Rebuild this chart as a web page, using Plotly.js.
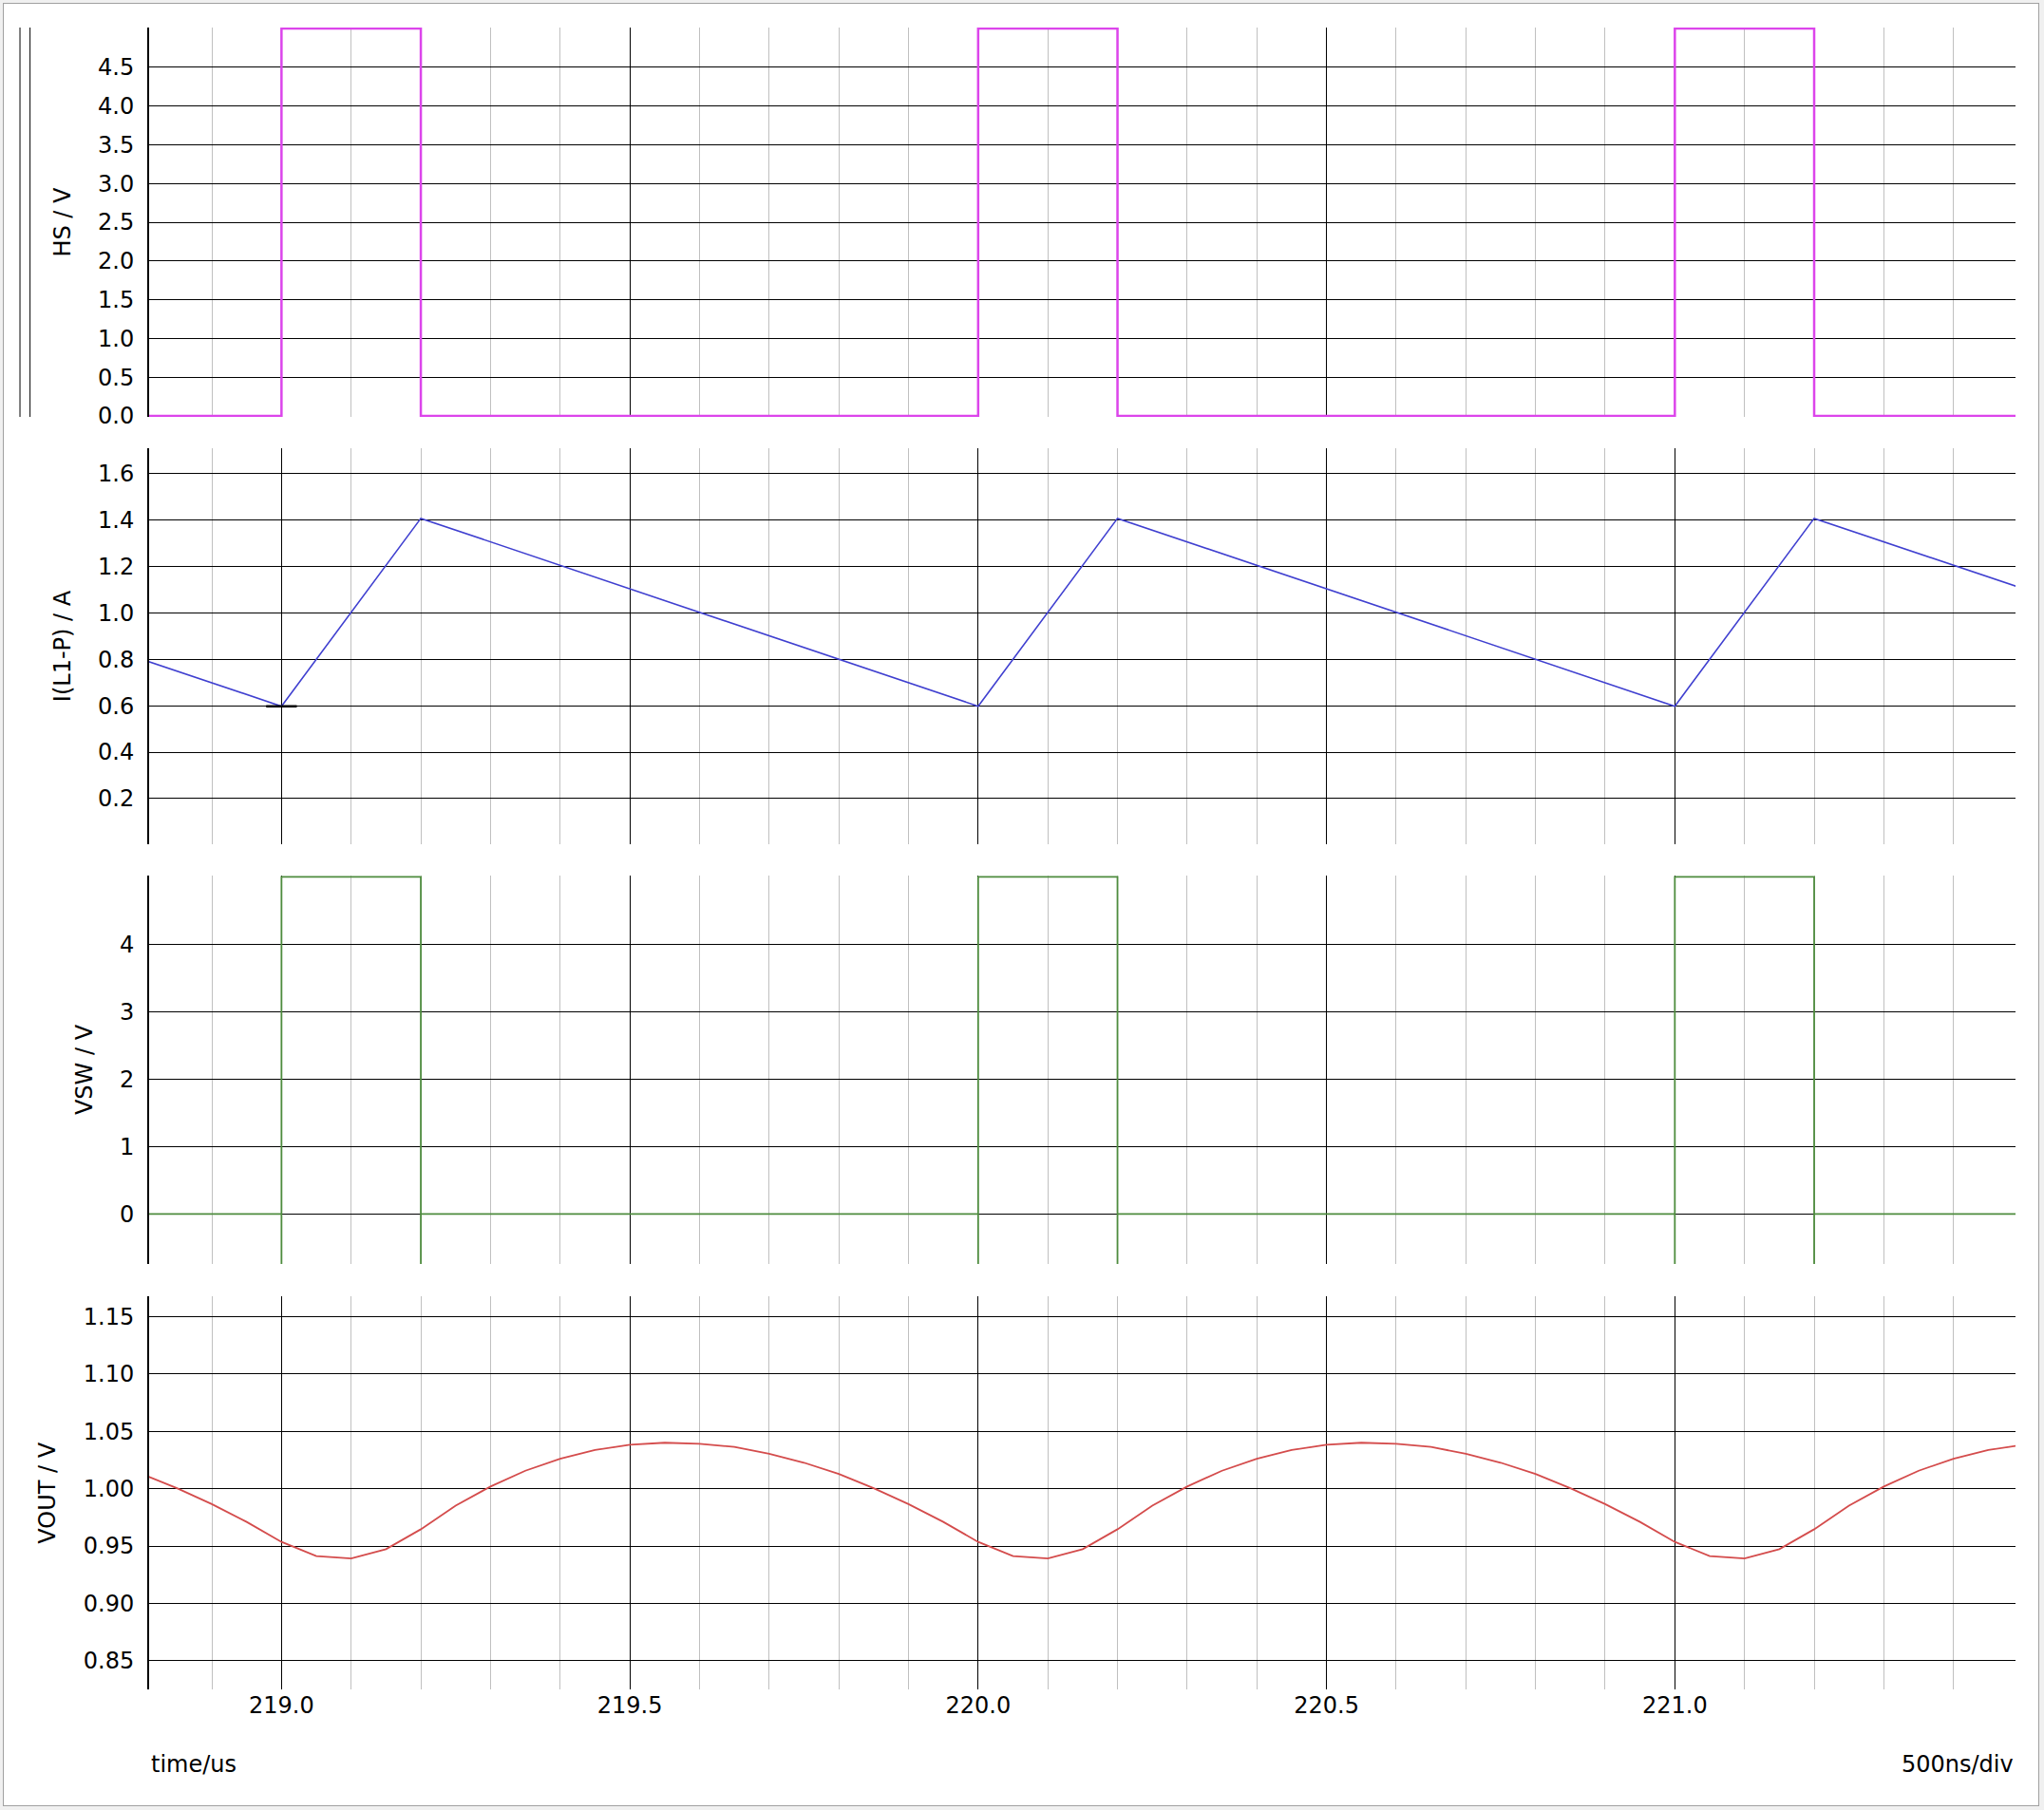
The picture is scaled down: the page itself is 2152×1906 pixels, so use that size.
<!DOCTYPE html>
<html>
<head>
<meta charset="utf-8">
<script src="https://cdn.plot.ly/plotly-3.0.1.min.js"></script>
<style>
  html, body { margin: 0; padding: 0; background: #f0f0f0; }
  #frame { position: absolute; left: 3px; top: 3px; width: 2142px; height: 1897px; border: 1px solid #a0a0a0; background: #ffffff; }
  #chart { width: 2142px; height: 1897px; }
</style>
</head>
<body>
<div id="frame"><div id="chart"></div></div>
<script>
// ---------- data ----------
const hsTime = [218.80, 219.00, 219.00, 219.20, 219.20, 220.00, 220.00, 220.20, 220.20, 221.00, 221.00, 221.20, 221.20, 221.50];
const hsVolt = [0, 0, 5, 5, 0, 0, 5, 5, 0, 0, 5, 5, 0, 0];

const iTime = [218.80, 219.00, 219.20, 220.00, 220.20, 221.00, 221.20, 221.50];
const iAmp  = [0.800, 0.598, 1.408, 0.598, 1.408, 0.598, 1.408, 1.105];

const vswTime = [218.80, 219.00, 219.00, 219.00, 219.20, 219.20, 219.20, 220.00, 220.00, 220.00, 220.20, 220.20, 220.20, 221.00, 221.00, 221.00, 221.20, 221.20, 221.20, 221.50];
const vswVolt = [0, 0, -0.9, 5, 5, -0.9, 0, 0, -0.9, 5, 5, -0.9, 0, 0, -0.9, 5, 5, -0.9, 0, 0];

const voutTime = [218.80, 218.85, 218.90, 218.95,
  219.00, 219.05, 219.10, 219.15, 219.20, 219.25, 219.30, 219.35, 219.40, 219.45,
  219.50, 219.55, 219.60, 219.65, 219.70, 219.75, 219.80, 219.85, 219.90, 219.95,
  220.00, 220.05, 220.10, 220.15, 220.20, 220.25, 220.30, 220.35, 220.40, 220.45,
  220.50, 220.55, 220.60, 220.65, 220.70, 220.75, 220.80, 220.85, 220.90, 220.95,
  221.00, 221.05, 221.10, 221.15, 221.20, 221.25, 221.30, 221.35, 221.40, 221.45, 221.50];
const voutVolt = [1.0128, 1.0004, 0.9866, 0.9710,
  0.9536, 0.9412, 0.9392, 0.9472, 0.9646, 0.9852, 1.0019, 1.0157, 1.0262, 1.0337,
  1.0384, 1.0401, 1.0392, 1.0365, 1.0304, 1.0227, 1.0128, 1.0004, 0.9866, 0.9710,
  0.9536, 0.9412, 0.9392, 0.9472, 0.9646, 0.9852, 1.0019, 1.0157, 1.0262, 1.0337,
  1.0384, 1.0401, 1.0392, 1.0365, 1.0304, 1.0227, 1.0128, 1.0004, 0.9866, 0.9710,
  0.9536, 0.9412, 0.9392, 0.9472, 0.9646, 0.9852, 1.0019, 1.0157, 1.0262, 1.0337, 1.0384];

// tick labels
const timeTickVals = [219.0, 219.5, 220.0, 220.5, 221.0];
const timeTickText = ['219.0', '219.5', '220.0', '220.5', '221.0'];
const hsTickVals = [0, 0.5, 1.0, 1.5, 2.0, 2.5, 3.0, 3.5, 4.0, 4.5];
const hsTickText = ['0.0', '0.5', '1.0', '1.5', '2.0', '2.5', '3.0', '3.5', '4.0', '4.5'];
const iTickVals = [0.2, 0.4, 0.6, 0.8, 1.0, 1.2, 1.4, 1.6];
const iTickText = ['0.2', '0.4', '0.6', '0.8', '1.0', '1.2', '1.4', '1.6'];
const vswTickVals = [0, 1, 2, 3, 4];
const vswTickText = ['0', '1', '2', '3', '4'];
const voutTickVals = [0.85, 0.90, 0.95, 1.00, 1.05, 1.10, 1.15];
const voutTickText = ['0.85', '0.90', '0.95', '1.00', '1.05', '1.10', '1.15'];

const yTitles = ['HS / V', 'I(L1-P) / A', 'VSW / V', 'VOUT / V'];
const xTitleText = 'time/us';
const scaleText = '500ns/div';
const cursorTime = 219.0;

// ---------- styling ----------
const FONT = 'DejaVu Sans, Verdana, sans-serif';
const tickFont = {family: FONT, size: 24, color: '#000000'};

function xAxis(showLabels) {
  return {
    range: [218.81, 221.489],
    tickmode: 'array', tickvals: timeTickVals, ticktext: timeTickText,
    showticklabels: showLabels, tickfont: tickFont, ticks: '',
    showgrid: true, gridcolor: '#000000', gridwidth: 1,
    minor: {tickmode: 'linear', tick0: 219.0, dtick: 0.1, showgrid: true, gridcolor: '#c0c0c0', gridwidth: 1, ticks: ''},
    showline: false, zeroline: false
  };
}
function yAxis(range, domain, vals, text, title) {
  return {
    range: range, domain: domain,
    tickmode: 'array', tickvals: vals, ticktext: text,
    tickfont: tickFont, ticks: '', ticklabelstandoff: 9,
    showgrid: true, gridcolor: '#000000', gridwidth: 1,
    showline: true, linecolor: '#000000', linewidth: 2,
    zeroline: false,
    title: {text: title, font: {family: FONT, size: 24, color: '#000000'}, standoff: 22}
  };
}

const traces = [
  {x: hsTime, y: hsVolt, xaxis: 'x', yaxis: 'y', mode: 'lines', line: {color: '#dc45eb', width: 2.5}},
  {x: iTime, y: iAmp, xaxis: 'x2', yaxis: 'y2', mode: 'lines', line: {color: '#4040d0', width: 1.6}},
  {x: vswTime, y: vswVolt, xaxis: 'x3', yaxis: 'y3', mode: 'lines', line: {color: '#4e8c3e', width: 1.8}},
  {x: voutTime, y: voutVolt, xaxis: 'x4', yaxis: 'y4', mode: 'lines', line: {color: '#d44c4c', width: 1.8}}
];

// cursor marker value taken from the current data
const cursorIdx = iTime.indexOf(cursorTime);
const cursorVal = iAmp[cursorIdx];

const xa1 = xAxis(false); xa1.anchor = 'y';
const xa2 = xAxis(false); xa2.anchor = 'y2'; xa2.matches = 'x';
const xa3 = xAxis(false); xa3.anchor = 'y3'; xa3.matches = 'x';
const xa4 = xAxis(true);  xa4.anchor = 'y4'; xa4.matches = 'x';

const layout = {
  width: 2142, height: 1897,
  margin: {l: 153, r: 24, t: 25, b: 122},
  paper_bgcolor: '#ffffff', plot_bgcolor: '#ffffff',
  showlegend: false,
  font: {family: FONT, size: 24, color: '#000000'},
  xaxis: xa1, xaxis2: xa2, xaxis3: xa3, xaxis4: xa4,
  yaxis:  yAxis([-0.012, 5.012], [0.76571, 1.0], hsTickVals, hsTickText, yTitles[0]),
  yaxis2: yAxis([0.003, 1.7105], [0.50857, 0.74686], iTickVals, iTickText, yTitles[1]),
  yaxis3: yAxis([-0.742, 5.018], [0.256, 0.48971], vswTickVals, vswTickText, yTitles[2]),
  yaxis4: yAxis([0.8249, 1.1675], [0.0, 0.23629], voutTickVals, voutTickText, yTitles[3]),
  shapes: [
    {type: 'line', xref: 'paper', yref: 'y domain', x0: -0.0692, x1: -0.0692, y0: 0, y1: 1, line: {color: '#000000', width: 1}},
    {type: 'line', xref: 'paper', yref: 'y domain', x0: -0.0638, x1: -0.0638, y0: 0, y1: 1, line: {color: '#000000', width: 1}},
    {type: 'line', xref: 'x2', yref: 'y2', x0: cursorTime - 0.022, x1: cursorTime + 0.022, y0: cursorVal, y1: cursorVal, line: {color: '#000000', width: 2.5}}
  ],
  annotations: [
    {text: xTitleText, xref: 'paper', yref: 'paper', x: 0, y: -0.0451, xanchor: 'left', yanchor: 'middle', showarrow: false, font: {family: FONT, size: 24, color: '#000000'}},
    {text: scaleText, xref: 'paper', yref: 'paper', x: 1, y: -0.0451, xanchor: 'right', yanchor: 'middle', showarrow: false, font: {family: FONT, size: 24, color: '#000000'}}
  ]
};

Plotly.newPlot('chart', traces, layout, {displayModeBar: false, staticPlot: true});
</script>
</body>
</html>
